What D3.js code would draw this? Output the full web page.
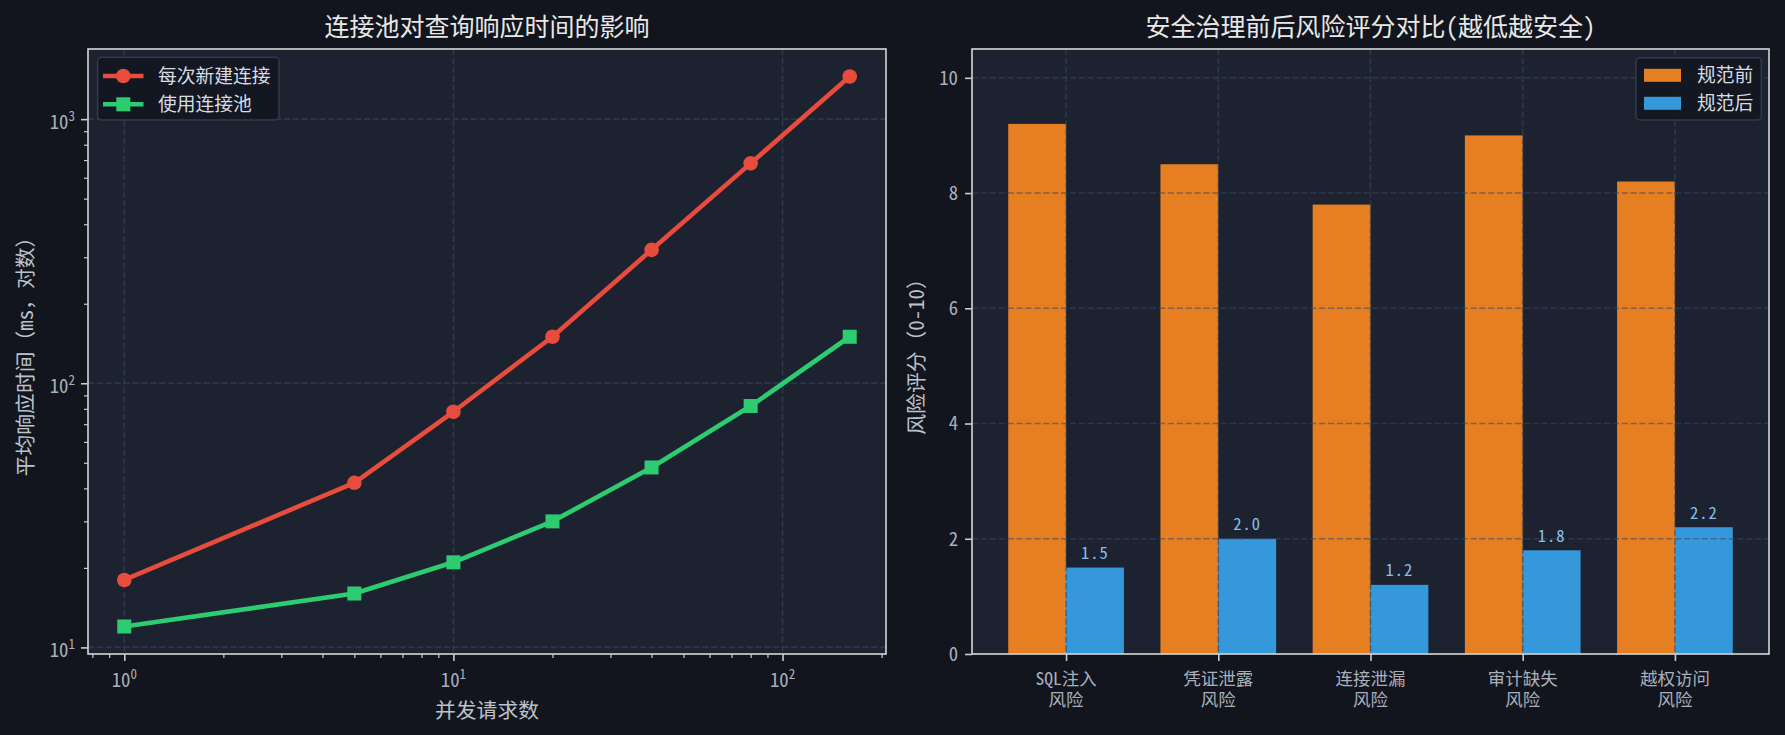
<!DOCTYPE html>
<html><head><meta charset="utf-8">
<script src="https://cdn.jsdelivr.net/npm/d3@7/dist/d3.min.js"></script>
<style>
html,body{margin:0;padding:0;background:#12151d;}
svg{display:block;}
text{font-family:"Noto Sans Mono CJK SC","Noto Sans CJK SC","DejaVu Sans",sans-serif;}
</style></head>
<body><svg id="c" width="1785" height="735"></svg>
<script>
// ---------- data ----------
const concurrency = [1, 5, 10, 20, 40, 80, 160];
const newConnTime = [18, 42, 78, 150, 320, 680, 1450];
const pooledTime  = [12, 16, 21, 30, 48, 82, 150];
const seriesNames = ["每次新建连接", "使用连接池"];

const riskCategories = ["SQL注入\n风险", "凭证泄露\n风险", "连接泄漏\n风险", "审计缺失\n风险", "越权访问\n风险"];
const riskBefore = [9.2, 8.5, 7.8, 9.0, 8.2];
const riskAfter  = [1.5, 2.0, 1.2, 1.8, 2.2];
const riskLegend = ["规范前", "规范后"];
const riskTicks  = [0, 2, 4, 6, 8, 10];

// ---------- style ----------
const C = {fig:"#12151d", ax:"#1c2230", spine:"#d6d6d6", tick:"#c8ccd2", tickText:"#a9b0bb",
  label:"#bcc2cc", title:"#e8e8e8", grid:"#3a4a60", red:"#e74c3c", green:"#2ecc71",
  orange:"#e67e22", blue:"#3498db", val:"#85c1e9", legBg:"#121722", legEdge:"#2f3b50"};
const FS = {title:25, label:20.8, tick:18.75, legend:18.75, val:16.5};

const svg = d3.select("#c");
svg.append("rect").attr("width",1785).attr("height",735).attr("fill",C.fig);

const L = {x:88, y:49, w:798, h:605};
const R = {x:972, y:49, w:797, h:605};

function frame(A){
  svg.append("rect").attr("x",A.x).attr("y",A.y).attr("width",A.w).attr("height",A.h).attr("fill",C.ax);
}
function spines(A){
  svg.append("rect").attr("x",A.x).attr("y",A.y).attr("width",A.w).attr("height",A.h)
    .attr("fill","none").attr("stroke",C.spine).attr("stroke-width",1.6);
}
function gridLine(x1,y1,x2,y2,op){
  svg.append("line").attr("x1",x1).attr("y1",y1).attr("x2",x2).attr("y2",y2)
    .attr("stroke",C.grid).attr("stroke-width",1.6).attr("stroke-dasharray","6.2,2.7")
    .attr("opacity",op);
}

// ================= LEFT: log-log line chart =================
frame(L);
function logPad(vals){
  const lo = Math.log10(d3.min(vals)), hi = Math.log10(d3.max(vals)), p = 0.05*(hi-lo);
  return [Math.pow(10, lo-p), Math.pow(10, hi+p)];
}
const x = d3.scaleLog().domain(logPad(concurrency)).range([L.x, L.x+L.w]);
const y = d3.scaleLog().domain(logPad(newConnTime.concat(pooledTime))).range([L.y+L.h, L.y]);

function logTicks(scale){
  const [a,b] = scale.domain();
  const major=[], minor=[];
  for(let k=Math.floor(Math.log10(a)); k<=Math.ceil(Math.log10(b)); k++){
    for(let m=1;m<=9;m++){
      const v = m*Math.pow(10,k);
      if(v>=a && v<=b){ (m===1?major:minor).push(v); }
    }
  }
  return {major, minor};
}
const xt = logTicks(x), yt = logTicks(y);

xt.major.forEach(v=>gridLine(x(v),L.y,x(v),L.y+L.h,0.55));
yt.major.forEach(v=>gridLine(L.x,y(v),L.x+L.w,y(v),0.55));

const lineGen = d3.line().x(d=>x(d[0])).y(d=>y(d[1]));
const redPts = concurrency.map((c,i)=>[c,newConnTime[i]]);
const grnPts = concurrency.map((c,i)=>[c,pooledTime[i]]);

svg.append("path").datum(redPts).attr("d",lineGen).attr("fill","none")
  .attr("stroke",C.red).attr("stroke-width",4.6).attr("stroke-linejoin","round");
svg.selectAll(".rdot").data(redPts).enter().append("circle")
  .attr("cx",d=>x(d[0])).attr("cy",d=>y(d[1])).attr("r",7.3).attr("fill",C.red);

svg.append("path").datum(grnPts).attr("d",lineGen).attr("fill","none")
  .attr("stroke",C.green).attr("stroke-width",4.6).attr("stroke-linejoin","round");
svg.selectAll(".gsq").data(grnPts).enter().append("rect")
  .attr("x",d=>x(d[0])-7).attr("y",d=>y(d[1])-7).attr("width",14).attr("height",14).attr("fill",C.green);

spines(L);

// ticks via d3 axes
function styleAxis(g, w){
  g.select(".domain").remove();
  g.selectAll(".tick line").attr("stroke",C.tick).attr("stroke-width",w);
  g.selectAll(".tick text").remove();
}
styleAxis(svg.append("g").attr("transform",`translate(0,${L.y+L.h})`)
  .call(d3.axisBottom(x).tickValues(xt.major).tickSize(7)),1.6);
styleAxis(svg.append("g").attr("transform",`translate(0,${L.y+L.h})`)
  .call(d3.axisBottom(x).tickValues(xt.minor).tickSize(4)),1.2);
styleAxis(svg.append("g").attr("transform",`translate(${L.x},0)`)
  .call(d3.axisLeft(y).tickValues(yt.major).tickSize(7)),1.6);
styleAxis(svg.append("g").attr("transform",`translate(${L.x},0)`)
  .call(d3.axisLeft(y).tickValues(yt.minor).tickSize(4)),1.2);

function powLabel(px, py, v, anchor){
  const t = svg.append("text").attr("x",px).attr("y",py).attr("text-anchor",anchor)
    .attr("fill",C.tickText).attr("font-size",FS.tick);
  t.append("tspan").text("10");
  t.append("tspan").attr("dy",-8).attr("font-size",13).text(String(Math.round(Math.log10(v))));
}
xt.major.forEach(v=>powLabel(x(v), L.y+L.h+33, v, "middle"));
yt.major.forEach(v=>powLabel(L.x-13, y(v)+10, v, "end"));

svg.append("text").attr("x",L.x+L.w/2).attr("y",36).attr("text-anchor","middle")
  .attr("fill",C.title).attr("font-size",FS.title).text("连接池对查询响应时间的影响");
svg.append("text").attr("x",L.x+L.w/2).attr("y",718).attr("text-anchor","middle")
  .attr("fill",C.label).attr("font-size",FS.label).text("并发请求数");
svg.append("text").attr("transform",`translate(33,${L.y+L.h/2}) rotate(-90)`).attr("text-anchor","middle")
  .attr("fill",C.label).attr("font-size",FS.label).text("平均响应时间（ms，对数）");

// left legend
svg.append("rect").attr("x",97.6).attr("y",57.3).attr("width",181.4).attr("height",62.7).attr("rx",4)
  .attr("fill",C.legBg).attr("fill-opacity",0.92).attr("stroke",C.legEdge).attr("stroke-width",1.5);
[[C.red,"circle"],[C.green,"square"]].forEach((s,i)=>{
  const cy = 76 + i*28.3;
  svg.append("line").attr("x1",103).attr("x2",143.5).attr("y1",cy).attr("y2",cy)
    .attr("stroke",s[0]).attr("stroke-width",4.6);
  if(s[1]==="circle") svg.append("circle").attr("cx",123.3).attr("cy",cy).attr("r",7.3).attr("fill",s[0]);
  else svg.append("rect").attr("x",116.3).attr("y",cy-7).attr("width",14).attr("height",14).attr("fill",s[0]);
  svg.append("text").attr("x",158).attr("y",cy+6.8).attr("fill","#d8dce2")
    .attr("font-size",FS.legend).text(seriesNames[i]);
});

// ================= RIGHT: grouped bar chart =================
frame(R);
const bw = 0.38;
const idx = riskCategories.map((d,i)=>i);
const xPad = 0.05*((idx.length-1+bw) - (-bw));
const xb = d3.scaleLinear().domain([-bw-xPad, idx.length-1+bw+xPad]).range([R.x, R.x+R.w]);
const yb = d3.scaleLinear().domain([0, 10.5]).range([R.y+R.h, R.y]);

svg.selectAll(".bb").data(riskBefore).enter().append("rect")
  .attr("x",(d,i)=>xb(i-bw)).attr("width",xb(bw)-xb(0))
  .attr("y",d=>yb(d)).attr("height",d=>yb(0)-yb(d)).attr("fill",C.orange);
svg.selectAll(".ba").data(riskAfter).enter().append("rect")
  .attr("x",(d,i)=>xb(i)).attr("width",xb(bw)-xb(0))
  .attr("y",d=>yb(d)).attr("height",d=>yb(0)-yb(d)).attr("fill",C.blue);

// grid above bars
idx.forEach(i=>gridLine(xb(i),R.y,xb(i),R.y+R.h,0.55));
riskTicks.forEach(v=>gridLine(R.x,yb(v),R.x+R.w,yb(v),0.55));

svg.selectAll(".bv").data(riskAfter).enter().append("text")
  .attr("x",(d,i)=>xb(i+bw/2)).attr("y",d=>yb(d+0.15)).attr("text-anchor","middle")
  .attr("fill",C.val).attr("font-size",FS.val).attr("letter-spacing",1).text(d=>d.toFixed(1));

spines(R);

const gxb = svg.append("g").attr("transform",`translate(0,${R.y+R.h})`)
  .call(d3.axisBottom(xb).tickValues(idx).tickSize(7));
styleAxis(gxb,1.6);
idx.forEach(i=>{
  const parts = riskCategories[i].split("\n");
  parts.forEach((p,j)=>svg.append("text").attr("x",xb(i)).attr("y",685+j*20.5)
    .attr("text-anchor","middle").attr("fill",C.tickText).attr("font-size",17.5).text(p));
});
const gyb = svg.append("g").attr("transform",`translate(${R.x},0)`)
  .call(d3.axisLeft(yb).tickValues(riskTicks).tickSize(7));
styleAxis(gyb,1.6);
riskTicks.forEach(v=>svg.append("text").attr("x",R.x-14).attr("y",yb(v)).attr("dy","0.36em")
  .attr("text-anchor","end").attr("fill",C.tickText).attr("font-size",FS.tick).text(v));

svg.append("text").attr("x",R.x+R.w/2).attr("y",36).attr("text-anchor","middle")
  .attr("fill",C.title).attr("font-size",FS.title).text("安全治理前后风险评分对比(越低越安全)");
svg.append("text").attr("transform",`translate(924,${R.y+R.h/2}) rotate(-90)`).attr("text-anchor","middle")
  .attr("fill",C.label).attr("font-size",FS.label).text("风险评分（0-10）");

// right legend
svg.append("rect").attr("x",1636).attr("y",57.7).attr("width",125.3).attr("height",62.3).attr("rx",4)
  .attr("fill",C.legBg).attr("fill-opacity",0.92).attr("stroke",C.legEdge).attr("stroke-width",1.5);
[C.orange,C.blue].forEach((c,i)=>{
  const cy = 75.3 + i*28;
  svg.append("rect").attr("x",1644).attr("y",cy-6.5).attr("width",37).attr("height",13).attr("fill",c);
  svg.append("text").attr("x",1697).attr("y",cy+6.8).attr("fill","#d8dce2")
    .attr("font-size",FS.legend).text(riskLegend[i]);
});
</script></body></html>
